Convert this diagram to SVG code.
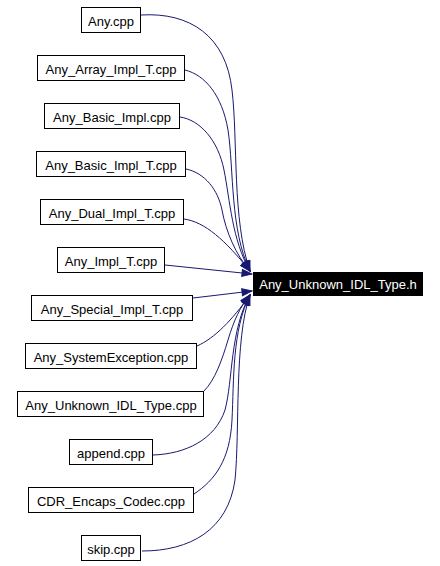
<svg xmlns="http://www.w3.org/2000/svg" width="440" height="566" viewBox="0 0 440 566">
<defs>
<style>
.n rect{fill:#fff;stroke:#000;stroke-width:1}
.n text{font-family:"Liberation Sans",Arial,sans-serif;font-size:13px;fill:#000;text-anchor:middle}
.t rect{fill:#000;stroke:#000}
.t text{font-family:"Liberation Sans",Arial,sans-serif;font-size:13px;fill:#fff;text-anchor:middle}
.e path{fill:none;stroke:#191970;stroke-width:1;marker-end:url(#ah)}
</style>
<marker id="ah" markerUnits="userSpaceOnUse" markerWidth="12" markerHeight="10" refX="11" refY="4.5" orient="auto">
<path d="M1,1 L11,4.5 L1,8 z" fill="#191970" stroke="#191970" stroke-width="1"/>
</marker>
</defs>
<rect width="440" height="566" fill="#fff"/>
<g id="edges" class="e">
<path d="M141,15 C190,12 226,36 232,90 C238,140 232,220 250,271"/>
<path d="M185,70 C205,75 222,95 228,130 C234,170 230,230 250,271"/>
<path d="M180,117 C200,120 218,140 224,170 C230,200 232,240 250,271"/>
<path d="M186,169 C205,173 218,190 222,210 C226,232 236,255 250,271"/>
<path d="M184,219 C205,222 225,240 250,271"/>
<path d="M165,265 L252,274"/>
<path d="M193,298 L252,291"/>
<path d="M197,346 C215,338 232,320 250,295"/>
<path d="M204,391 C215,380 222,360 228,340 C234,320 240,307 250,295"/>
<path d="M153,455 C185,454 215,440 225,410 C233,380 230,330 250,295"/>
<path d="M194,494 C215,480 230,460 232,420 C234,380 232,330 250,295"/>
<path d="M142,551 C190,551 228,530 235,480 C240,430 234,340 250,295"/>
</g>
<g id="target" class="t"><rect x="253.5" y="272.5" width="169" height="23"/><text x="338" y="289">Any_Unknown_IDL_Type.h</text></g>
<g id="n1" class="n"><rect x="81.5" y="7.5" width="59" height="25"/><text x="111" y="25.5">Any.cpp</text></g>
<g id="n2" class="n"><rect x="37.5" y="55.5" width="147" height="25"/><text x="111" y="73.5">Any_Array_Impl_T.cpp</text></g>
<g id="n3" class="n"><rect x="44.5" y="103.5" width="135" height="25"/><text x="112" y="121.5">Any_Basic_Impl.cpp</text></g>
<g id="n4" class="n"><rect x="36.5" y="151.5" width="149" height="25"/><text x="111" y="169.5">Any_Basic_Impl_T.cpp</text></g>
<g id="n5" class="n"><rect x="40.5" y="199.5" width="143" height="25"/><text x="112" y="217.5">Any_Dual_Impl_T.cpp</text></g>
<g id="n6" class="n"><rect x="57.5" y="247.5" width="107" height="25"/><text x="111" y="265.5">Any_Impl_T.cpp</text></g>
<g id="n7" class="n"><rect x="31.5" y="295.5" width="161" height="25"/><text x="112" y="313.5">Any_Special_Impl_T.cpp</text></g>
<g id="n8" class="n"><rect x="25.5" y="343.5" width="171" height="25"/><text x="111" y="361.5">Any_SystemException.cpp</text></g>
<g id="n9" class="n"><rect x="17.5" y="391.5" width="186" height="25"/><text x="111" y="409.5">Any_Unknown_IDL_Type.cpp</text></g>
<g id="n10" class="n"><rect x="69.5" y="439.5" width="83" height="25"/><text x="111" y="457.5">append.cpp</text></g>
<g id="n11" class="n"><rect x="28.5" y="487.5" width="165" height="25"/><text x="111" y="505.5">CDR_Encaps_Codec.cpp</text></g>
<g id="n12" class="n"><rect x="81.5" y="535.5" width="59" height="25"/><text x="111" y="553.5">skip.cpp</text></g>
</svg>
